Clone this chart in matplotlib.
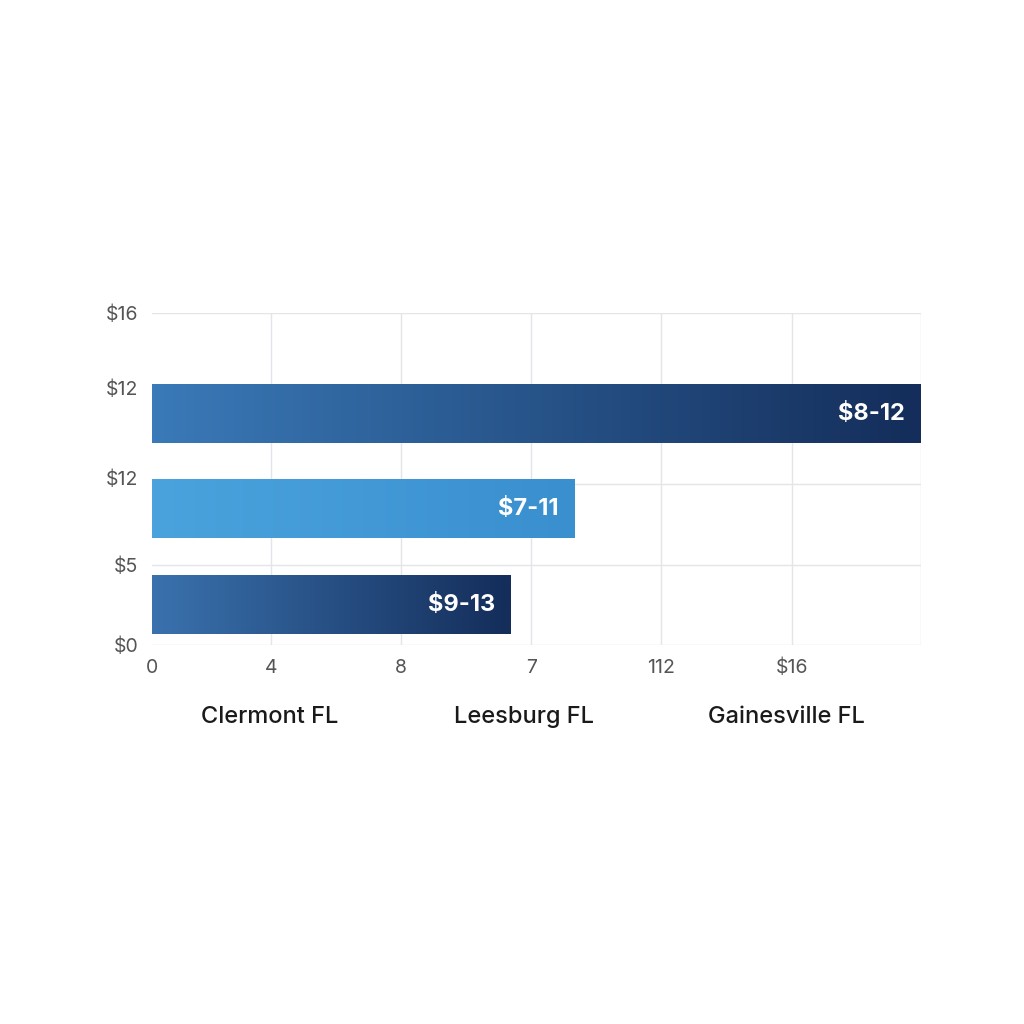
import numpy as np
import matplotlib
matplotlib.use("Agg")
import matplotlib.pyplot as plt
from matplotlib.colors import LinearSegmentedColormap

plt.rcParams['font.family'] = ['Inter', 'DejaVu Sans']

bar_labels = ["$8-12", "$7-11", "$9-13"]
bar_values = [24.0, 13.2, 11.2]
bar_y = [11.13, 6.55, 1.93]
bar_colors = [("#3a7ab8", "#142d5a"), ("#4aa3dd", "#3a8fcf"), ("#3a72ae", "#142d5a")]
ytick_pos = [0, 3.86, 8.05, 12.39, 16]
ytick_labels = ["$0", "$5", "$12", "$12", "$16"]
ygrid = [0, 3.86, 7.76, 16]
xtick_pos = [0, 3.72, 7.78, 11.84, 15.9, 19.97]
xtick_labels = ["0", "4", "8", "7", "112", "$16"]
categories = ["Clermont FL", "Leesburg FL", "Gainesville FL"]
cat_x = [270, 524, 786]

fig = plt.figure(figsize=(10.24, 10.24), dpi=100)
ax = fig.add_axes([152/1024, 379/1024, 769/1024, 332/1024])
ax.set_xlim(0, 24.0)
ax.set_ylim(0, 16)
for y in ygrid:
    ax.axhline(y, color="#e2e5ea", lw=1, zorder=0)
for x in xtick_pos[1:] + [24.0]:
    ax.axvline(x, color="#e2e5ea", lw=1, zorder=0)
h = 2.8
grad = np.linspace(0, 1, 256).reshape(1, -1)
for v, y, (c1, c2), lab in zip(bar_values, bar_y, bar_colors, bar_labels):
    cmap = LinearSegmentedColormap.from_list("g", [c1, c2])
    ax.imshow(grad, cmap=cmap, extent=[0, v, y - h/2, y + h/2], aspect="auto", zorder=2)
    ax.text(v - 0.5, y, lab, color="white", ha="right", va="center", fontsize=17, fontweight="bold", zorder=3)
ax.set_xlim(0, 24.0)
ax.set_ylim(0, 16)
ax.set_xticks(xtick_pos, xtick_labels)
ax.set_yticks(ytick_pos, ytick_labels)
ax.tick_params(length=0, labelsize=14, labelcolor="#555555", pad=10)
for s in ax.spines.values():
    s.set_visible(False)
for c, x in zip(categories, cat_x):
    fig.text(x/1024, 1 - 717/1024, c, ha="center", va="center", fontsize=17, fontweight="medium", color="#1a1a1a")
fig.savefig("out.png", dpi=100, facecolor="white")
